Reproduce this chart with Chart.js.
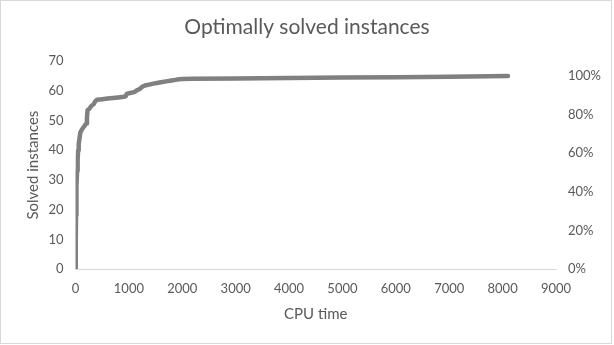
<!DOCTYPE html>
<html>
<head>
<meta charset="utf-8">
<script src="https://cdn.jsdelivr.net/npm/chart.js@4/dist/chart.umd.min.js"></script>
<style>
html,body{margin:0;padding:0;background:#fff;}
#wrap{position:relative;width:614px;height:345px;}
</style>
</head>
<body>
<div id="wrap"><canvas id="c" width="614" height="345"></canvas></div>
<script>
const chartTitle = "Optimally solved instances";
const xTitle = "CPU time";
const yTitle = "Solved instances";
const cpuTime = [0, 5, 10, 15, 20, 30, 40, 50, 60, 75, 90, 120, 160, 200, 215, 225, 260, 300, 340, 370, 400, 500, 600, 700, 800, 900, 940, 960, 1000, 1100, 1150, 1200, 1250, 1300, 1400, 1500, 1600, 1700, 1800, 1900, 2000, 2200, 3000, 4000, 5000, 6000, 7000, 8100];
const solved  = [0, 10, 18, 24, 28, 33, 37, 40, 42, 44, 46, 47, 48, 49, 51, 53.5, 54, 55, 55.5, 56.5, 57, 57.2, 57.4, 57.6, 57.8, 58, 58.2, 59, 59.2, 59.6, 60.2, 60.6, 61.4, 61.8, 62.2, 62.6, 62.9, 63.2, 63.5, 63.8, 64, 64.1, 64.2, 64.3, 64.5, 64.6, 64.8, 65];
const totalInstances = 65;
const xTicks = [0, 1000, 2000, 3000, 4000, 5000, 6000, 7000, 8000, 9000];
const yTicks = [0, 10, 20, 30, 40, 50, 60, 70];
const pctTicks = [0, 20, 40, 60, 80, 100];

const FONT = "Lato, 'Open Sans', sans-serif";
const TXT = "#595959";

const points = cpuTime.map((t, i) => ({x: t, y: solved[i]}));

const borderPlugin = {
  id: 'outerBorder',
  afterDraw(chart) {
    const ctx = chart.ctx;
    ctx.save();
    ctx.strokeStyle = '#d9d9d9';
    ctx.lineWidth = 1;
    ctx.strokeRect(0.5, 0.5, 611, 343);
    ctx.restore();
  }
};

new Chart(document.getElementById('c'), {
  type: 'scatter',
  data: {
    datasets: [{
      data: points,
      showLine: true,
      borderColor: '#808080',
      backgroundColor: '#808080',
      borderWidth: 4.5,
      pointRadius: 0,
      tension: 0,
      borderCapStyle: 'round',
      borderJoinStyle: 'round',
      yAxisID: 'y'
    }]
  },
  options: {
    responsive: false,
    animation: false,
    layout: {padding: {left: 0, right: 0, top: 15, bottom: 0}},
    plugins: {
      legend: {display: false},
      tooltip: {enabled: false},
      title: {
        display: true,
        text: chartTitle,
        color: TXT,
        font: {family: FONT, size: 21, weight: 'normal'},
        padding: {top: 0, bottom: 21}
      }
    },
    scales: {
      x: {
        type: 'linear',
        min: 0, max: 9000,
        afterBuildTicks(s) { s.ticks = xTicks.map(v => ({value: v})); },
        afterFit(s) { s.height = 76; },
        grid: {display: false, drawTicks: false},
        border: {display: true, color: '#d9d9d9', width: 1},
        ticks: {color: TXT, font: {family: FONT, size: 13}, padding: 12, maxRotation: 0, callback: v => String(v)},
        title: {display: true, text: xTitle, color: TXT, font: {family: FONT, size: 15}, padding: {top: 4, bottom: 22}}
      },
      y: {
        type: 'linear',
        position: 'left',
        min: 0, max: 70,
        afterBuildTicks(s) { s.ticks = yTicks.map(v => ({value: v})); },
        afterFit(s) { s.width = 75.5; },
        grid: {display: false, drawTicks: false},
        border: {display: false},
        ticks: {color: TXT, font: {family: FONT, size: 13}, padding: 12, callback: v => String(v)},
        title: {display: true, text: yTitle, color: TXT, font: {family: FONT, size: 15}, padding: {top: 24, bottom: 0}}
      },
      y1: {
        type: 'linear',
        position: 'right',
        min: 0, max: 70 / totalInstances * 100,
        afterBuildTicks(s) { s.ticks = pctTicks.map(v => ({value: v})); },
        afterFit(s) { s.width = 58; },
        grid: {display: false, drawTicks: false},
        border: {display: false},
        ticks: {color: TXT, font: {family: FONT, size: 13}, padding: 12, callback: v => v + '%'}
      }
    }
  },
  plugins: [borderPlugin]
});
</script>
</body>
</html>
